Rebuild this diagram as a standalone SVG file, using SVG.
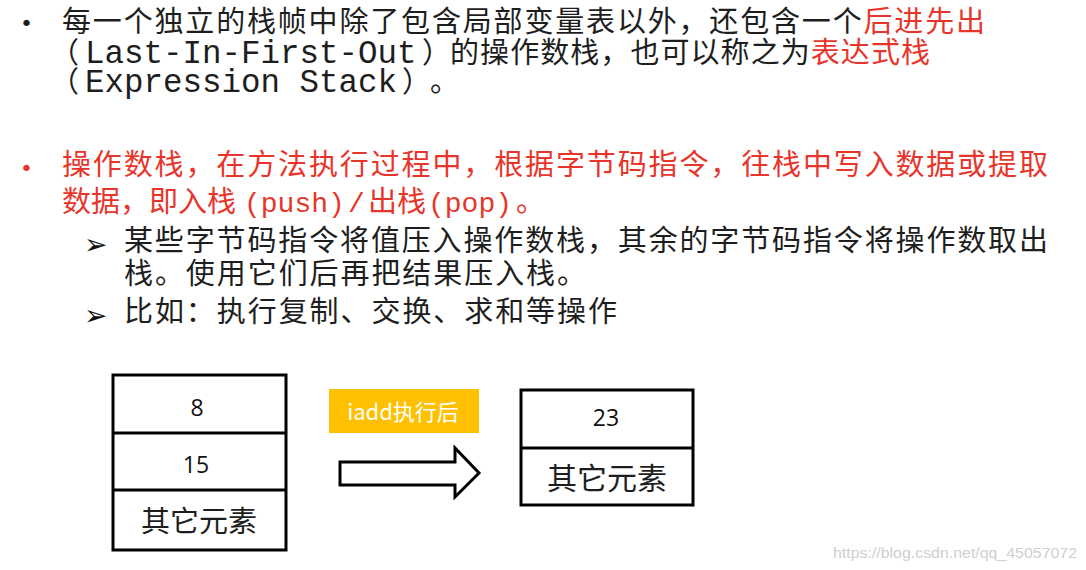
<svg xmlns="http://www.w3.org/2000/svg" width="1086" height="570" viewBox="0 0 1086 570">
<style>
  .cjk { font-family: "Noto Sans CJK SC", "Noto Sans", sans-serif; font-size: 29px; fill: #1e1e1e; }
  .mono { font-family: "Liberation Mono", "DejaVu Sans Mono", monospace; font-size: 32.5px; fill: #1e1e1e; }
  .mono-s { font-family: "Liberation Mono", "DejaVu Sans Mono", monospace; font-size: 28px; }
  .bul { font-family: "DejaVu Sans", sans-serif; font-size: 22px; fill: #1e1e1e; }
  .sub { font-family: "DejaVu Sans", sans-serif; font-size: 28px; fill: #111111; }
  .red { fill: #e8352b; }
  .box { fill: #ffffff; stroke: #000000; stroke-width: 3; }
  .div { stroke: #000000; stroke-width: 3; }
  .lbl { font-family: "Noto Sans CJK SC", "Noto Sans", sans-serif; fill: #1e1e1e; text-anchor: middle; }
  .num { font-family: "Open Sans", "Noto Sans", sans-serif; font-size: 23px; fill: #111111; text-anchor: middle; }
</style>
<rect width="1086" height="570" fill="#ffffff"/>

<g id="text">
  <text class="bul" x="20" y="31">•</text>
  <text class="cjk" x="62" y="32" textLength="923" lengthAdjust="spacing">每一个独立的栈帧中除了包含局部变量表以外，还包含一个<tspan class="red">后进先出</tspan></text>
  <text class="cjk" y="63"><tspan x="50">（</tspan><tspan class="mono" x="85">Last-In-First-Out</tspan><tspan x="422">）</tspan></text>
  <text class="cjk" x="450" y="63" textLength="480" lengthAdjust="spacing">的操作数栈，也可以称之为<tspan class="red">表达式栈</tspan></text>
  <text class="cjk" y="92"><tspan x="50">（</tspan><tspan class="mono" x="85">Expression Stack</tspan><tspan x="402">）</tspan><tspan x="430">。</tspan></text>

  <text class="bul red" x="20" y="176">•</text>
  <text class="cjk red" x="62" y="175" textLength="986" lengthAdjust="spacing">操作数栈，在方法执行过程中，根据字节码指令，往栈中写入数据或提取</text>
  <text class="cjk red" y="212"><tspan x="62">数据，即入栈</tspan><tspan class="mono-s" x="244">(push)</tspan><tspan class="mono-s" x="348">/</tspan><tspan x="368">出栈</tspan><tspan class="mono-s" x="428">(pop)</tspan><tspan x="516">。</tspan></text>

  <text class="sub" x="84" y="254">➢</text>
  <text class="cjk" x="124" y="251" textLength="924" lengthAdjust="spacing">某些字节码指令将值压入操作数栈，其余的字节码指令将操作数取出</text>
  <text class="cjk" x="124" y="284" textLength="462" lengthAdjust="spacing">栈。使用它们后再把结果压入栈。</text>
  <text class="sub" x="84" y="325">➢</text>
  <text class="cjk" x="124" y="322" textLength="493" lengthAdjust="spacing">比如：执行复制、交换、求和等操作</text>
</g>

<g id="stack-before">
  <rect class="box" x="113" y="375" width="173" height="175"/>
  <line class="div" x1="113" y1="433" x2="286" y2="433"/>
  <line class="div" x1="113" y1="490" x2="286" y2="490"/>
  <text class="num" x="197" y="416">8</text>
  <text class="num" x="196" y="473">15</text>
  <text class="lbl" x="199" y="532" font-size="29">其它元素</text>
</g>

<g id="label-iadd">
  <rect x="329" y="389" width="150" height="44" fill="#ffc000"/>
  <text x="403" y="420" font-family="Noto Sans CJK SC, Noto Sans, sans-serif" font-size="22" fill="#ffffff" text-anchor="middle">iadd执行后</text>
</g>

<g id="connectors">
  <path d="M340,462 L455,462 L455,448 L479,473 L455,497 L455,485 L340,485 Z" fill="#ffffff" stroke="#000000" stroke-width="3" stroke-linejoin="miter"/>
</g>

<g id="stack-after">
  <rect class="box" x="521" y="390" width="172" height="115"/>
  <line class="div" x1="521" y1="448" x2="693" y2="448"/>
  <text class="num" x="606" y="426">23</text>
  <text class="lbl" x="607" y="489" font-size="30">其它元素</text>
</g>

<text x="833" y="558" font-family="Liberation Sans, Arial, sans-serif" font-size="15" fill="#cfcfcf" textLength="244" lengthAdjust="spacingAndGlyphs">https://blog.csdn.net/qq_45057072</text>
</svg>
